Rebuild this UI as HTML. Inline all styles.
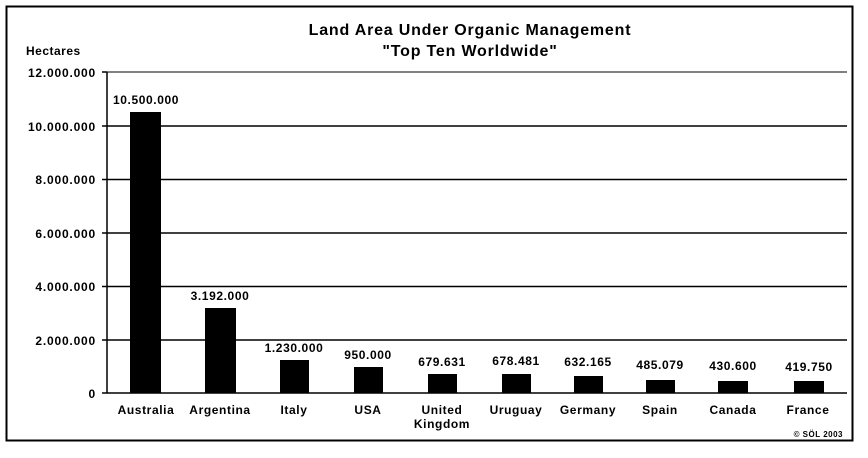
<!DOCTYPE html>
<html><head><style>
body{margin:0;background:#fff;}
svg text{font-family:"Liberation Sans",Arial,sans-serif;font-weight:bold;fill:#000;}
</style></head><body>
<svg width="868" height="453" viewBox="0 0 868 453" xmlns="http://www.w3.org/2000/svg">
<rect x="0" y="0" width="868" height="453" fill="#fff"/>
<rect x="6.5" y="6.5" width="846" height="434" fill="none" stroke="#000" stroke-width="2"/>
<text x="470" y="35" font-size="16" letter-spacing="0.8" text-anchor="middle">Land Area Under Organic Management</text>
<text x="470" y="56" font-size="16" letter-spacing="0.8" text-anchor="middle">"Top Ten Worldwide"</text>
<text x="26" y="55" font-size="12" letter-spacing="0.5">Hectares</text>
<g stroke="#000" stroke-width="1.5">
<line x1="107" y1="72" x2="847" y2="72" stroke-width="1"/>
<line x1="107" y1="126" x2="847" y2="126"/>
<line x1="107" y1="179.5" x2="847" y2="179.5"/>
<line x1="107" y1="233" x2="847" y2="233"/>
<line x1="107" y1="286.5" x2="847" y2="286.5"/>
<line x1="107" y1="340" x2="847" y2="340"/>
<line x1="107" y1="393" x2="847" y2="393"/>
<line x1="107" y1="72" x2="107" y2="393"/>
<line x1="102" y1="72" x2="107" y2="72"/><line x1="102" y1="126" x2="107" y2="126"/><line x1="102" y1="179.5" x2="107" y2="179.5"/><line x1="102" y1="233" x2="107" y2="233"/><line x1="102" y1="286.5" x2="107" y2="286.5"/><line x1="102" y1="340" x2="107" y2="340"/><line x1="102" y1="393" x2="107" y2="393"/>
</g>
<g font-size="12" letter-spacing="0.8" text-anchor="end">
<text x="96" y="77">12.000.000</text><text x="96" y="131">10.000.000</text><text x="96" y="184">8.000.000</text><text x="96" y="238">6.000.000</text><text x="96" y="291">4.000.000</text><text x="96" y="345">2.000.000</text><text x="96" y="398">0</text>
</g>
<g fill="#000">
<rect x="130" y="112" width="31" height="281"/>
<rect x="205" y="308" width="31" height="85"/>
<rect x="280" y="360" width="29" height="33"/>
<rect x="354" y="367" width="29" height="26"/>
<rect x="428" y="374" width="29" height="19"/>
<rect x="502" y="374" width="29" height="19"/>
<rect x="574" y="376" width="29" height="17"/>
<rect x="646" y="380" width="29" height="13"/>
<rect x="718" y="381" width="30" height="12"/>
<rect x="794" y="381" width="30" height="12"/>
</g>
<g font-size="12" letter-spacing="0.6" text-anchor="middle">
<text x="146" y="104">10.500.000</text>
<text x="220" y="300">3.192.000</text>
<text x="294" y="352">1.230.000</text>
<text x="368" y="359">950.000</text>
<text x="442" y="366">679.631</text>
<text x="516" y="365">678.481</text>
<text x="588" y="366">632.165</text>
<text x="660" y="369">485.079</text>
<text x="733" y="370">430.600</text>
<text x="809" y="371">419.750</text>
</g>
<g font-size="12" letter-spacing="0.6" text-anchor="middle">
<text x="146" y="414">Australia</text>
<text x="220" y="414">Argentina</text>
<text x="294" y="414">Italy</text>
<text x="368" y="414">USA</text>
<text x="442" y="414">United</text><text x="442" y="428">Kingdom</text>
<text x="516" y="414">Uruguay</text>
<text x="588" y="414">Germany</text>
<text x="660" y="414">Spain</text>
<text x="733" y="414">Canada</text>
<text x="808" y="414">France</text>
</g>
<text x="843" y="437" font-size="8" letter-spacing="0.5" text-anchor="end">© SÖL 2003</text>
</svg>
</body></html>
